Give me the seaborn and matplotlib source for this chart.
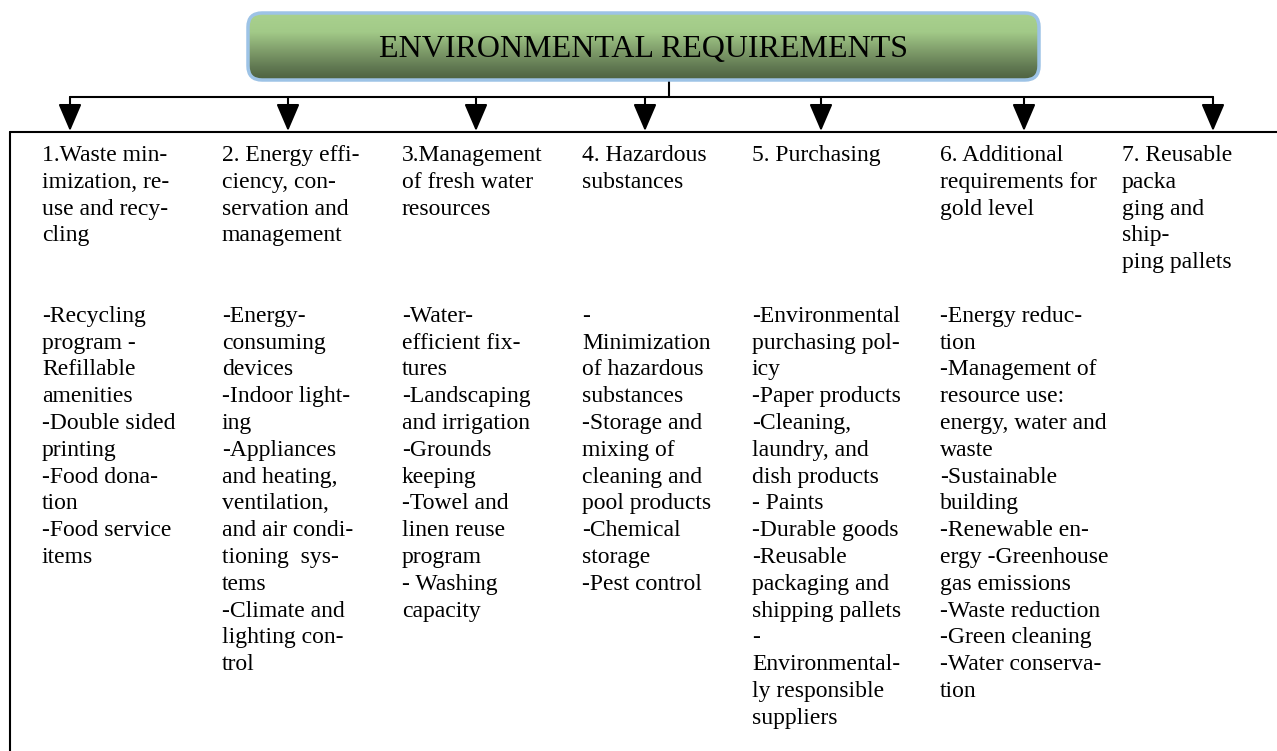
"""Diagram: environmental requirements, seven branches with their items."""
import matplotlib
matplotlib.use("Agg")
import matplotlib.pyplot as plt
import seaborn as sns
import numpy as np
from matplotlib.patches import FancyBboxPatch
from matplotlib.colors import LinearSegmentedColormap

sns.set_theme(style="white")
plt.rcParams["font.family"] = ["Liberation Serif", "DejaVu Serif"]
plt.rcParams["text.color"] = "black"

TITLE = "ENVIRONMENTAL REQUIREMENTS"

headings = [
    ["1.Waste min-", "imization, re-", "use and recy-", "cling"],
    ["2. Energy effi-", "ciency, con-", "servation and", "management"],
    ["3.Management", "of fresh water", "resources"],
    ["4. Hazardous", "substances"],
    ["5. Purchasing"],
    ["6. Additional", "requirements for", "gold level"],
    ["7. Reusable", "packa", "ging and", "ship-", "ping pallets"],
]

items = [
    ["-Recycling", "program -", "Refillable", "amenities", "-Double sided",
     "printing", "-Food dona-", "tion", "-Food service", "items"],
    ["-Energy-", "consuming", "devices", "-Indoor light-", "ing", "-Appliances",
     "and heating,", "ventilation,", "and air condi-", "tioning  sys-", "tems",
     "-Climate and", "lighting con-", "trol"],
    ["-Water-", "efficient fix-", "tures", "-Landscaping", "and irrigation",
     "-Grounds", "keeping", "-Towel and", "linen reuse", "program",
     "- Washing", "capacity"],
    ["-", "Minimization", "of hazardous", "substances", "-Storage and",
     "mixing of", "cleaning and", "pool products", "-Chemical", "storage",
     "-Pest control"],
    ["-Environmental", "purchasing pol-", "icy", "-Paper products",
     "-Cleaning,", "laundry, and", "dish products", "- Paints",
     "-Durable goods", "-Reusable", "packaging and", "shipping pallets", "-",
     "Environmental-", "ly responsible", "suppliers"],
    ["-Energy reduc-", "tion", "-Management of", "resource use:",
     "energy, water and", "waste", "-Sustainable", "building",
     "-Renewable en-", "ergy -Greenhouse", "gas emissions",
     "-Waste reduction", "-Green cleaning", "-Water conserva-", "tion"],
    [],
]

# layout (pixels)
W, H = 1277, 751
text_x = [42, 222, 402, 582, 752, 940, 1122]
arrow_x = [70, 288, 476, 645, 821, 1024, 1213]
LINE0, STEP, ITEM_ROW = 161, 26.8, 6
FS = 17

fig = plt.figure(figsize=(W / 100, H / 100), dpi=100)
ax = fig.add_axes([0, 0, 1, 1])
ax.set_xlim(0, W)
ax.set_ylim(H, 0)
ax.axis("off")

# title box with vertical green gradient
bx0, by0, bx1, by1 = 248, 13, 1039, 80
box = FancyBboxPatch((bx0, by0), bx1 - bx0, by1 - by0,
                     boxstyle="round,pad=0,rounding_size=14",
                     facecolor="none", edgecolor="#9dc3e6", lw=2.5, zorder=3)
ax.add_patch(box)
cmap = LinearSegmentedColormap.from_list(
    "grn", [(0, "#a9d18e"), (0.28, "#a2ca88"), (0.55, "#819f6c"),
            (0.8, "#627a53"), (1, "#4d6140")])
grad = np.linspace(0, 1, 200).reshape(-1, 1)
im = ax.imshow(grad, cmap=cmap, aspect="auto", origin="upper",
               extent=(bx0, bx1, by1, by0), zorder=2)
im.set_clip_path(box)
ax.text((bx0 + bx1) / 2, 50, TITLE, ha="center", va="center",
        fontsize=23, zorder=4)

# connectors
ax.plot([669, 669], [by1, 97], color="black", lw=1.5)
ax.plot([arrow_x[0], arrow_x[-1]], [97, 97], color="black", lw=1.5)
for x in arrow_x:
    ax.annotate("", xy=(x, 131), xytext=(x, 97),
                arrowprops=dict(arrowstyle="-|>,head_width=0.6,head_length=1.4",
                                color="black", lw=1.5, shrinkA=0, shrinkB=0))

# open frame around the columns
ax.plot([10, W], [132, 132], color="black", lw=1.5)
ax.plot([10, 10], [132, H], color="black", lw=1.5)

for x, head, its in zip(text_x, headings, items):
    for i, line in enumerate(head):
        ax.text(x, LINE0 + i * STEP, line, fontsize=FS, va="baseline", ha="left")
    for i, line in enumerate(its):
        ax.text(x, LINE0 + (ITEM_ROW + i) * STEP, line, fontsize=FS,
                va="baseline", ha="left")

fig.savefig("out.png", dpi=100, facecolor="white")
